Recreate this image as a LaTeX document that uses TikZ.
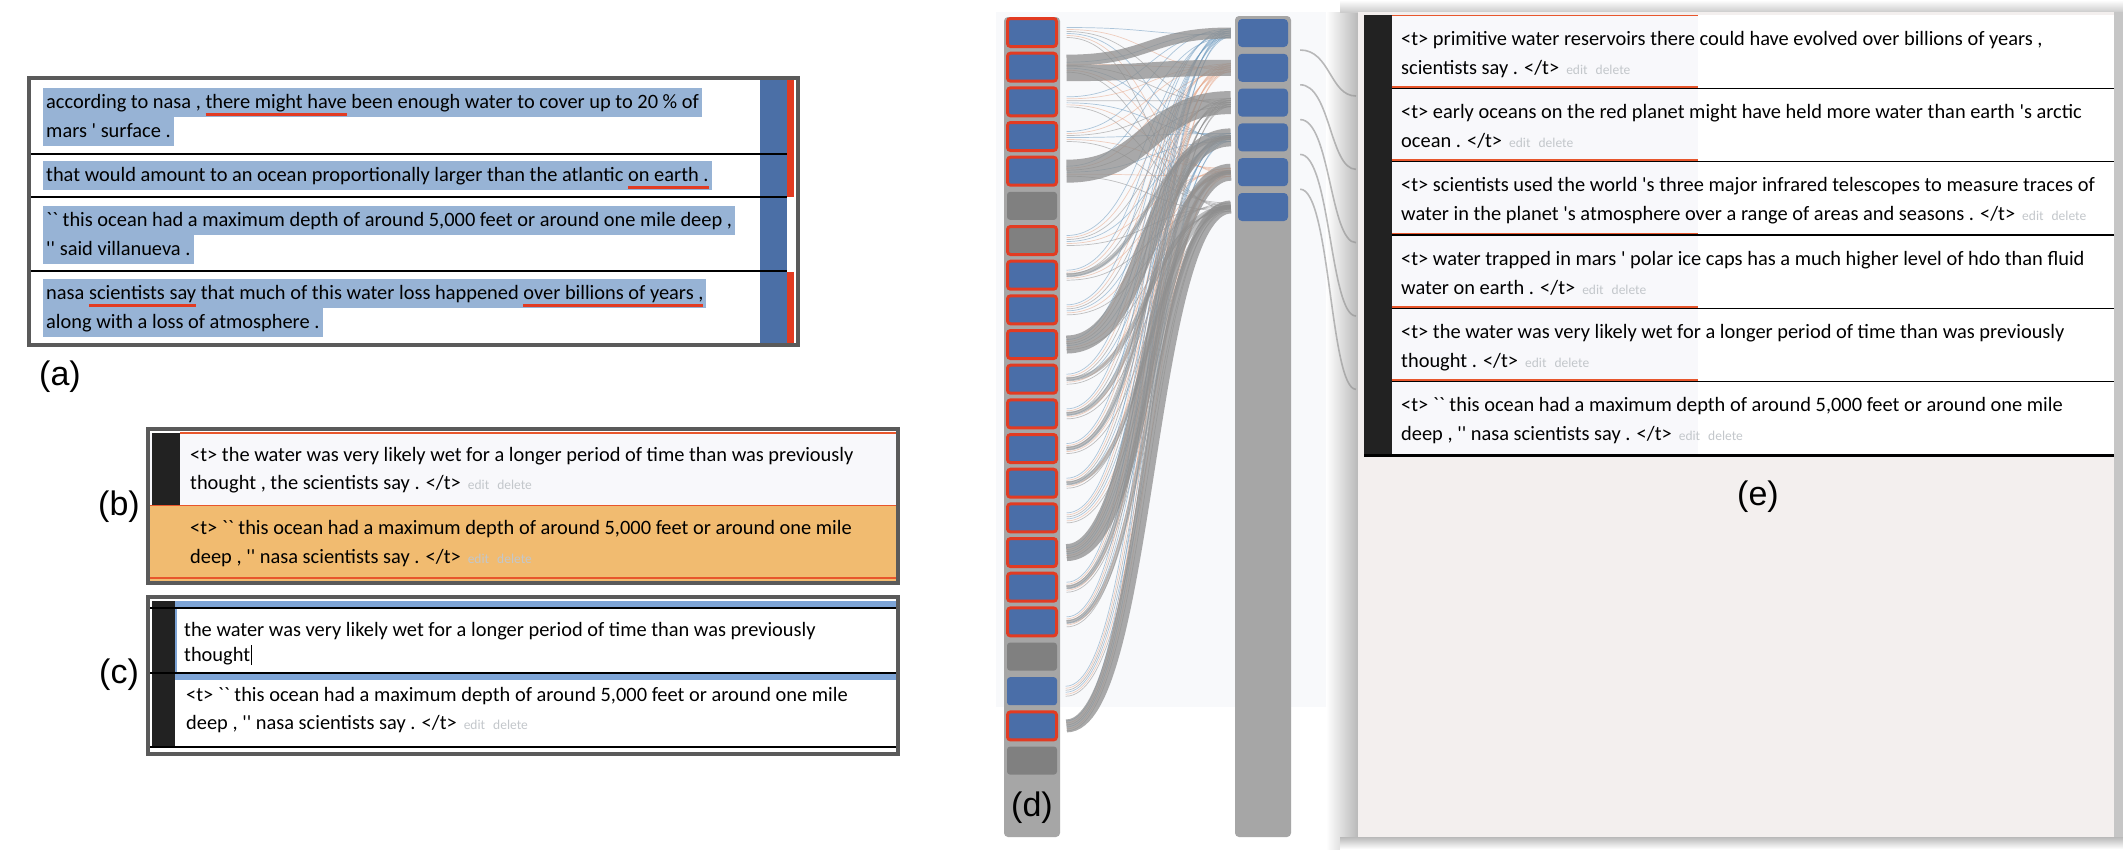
\documentclass[tikz,border=0pt]{standalone}
\usepackage{fontspec}
\newfontfamily\uifont{Carlito}
\newfontfamily\labfont{Liberation Sans}
\usetikzlibrary{positioning}

\definecolor{panelgray}{HTML}{5A5A5A}
\definecolor{hlblue}{HTML}{97B3D5}
\definecolor{barblue}{HTML}{4B6FA6}
\definecolor{boxblue}{HTML}{4A6EA8}
\definecolor{markred}{HTML}{E23B22}
\definecolor{roworange}{HTML}{F1BB70}
\definecolor{lineorange}{HTML}{E8562C}
\definecolor{darkbar}{HTML}{222222}
\definecolor{colgray}{HTML}{A6A6A6}
\definecolor{boxgray}{HTML}{808080}
\definecolor{flowgray}{HTML}{8E8E8E}
\definecolor{flowblue}{HTML}{6F9BBF}
\definecolor{floworange}{HTML}{E7A98C}
\definecolor{sankeybg}{HTML}{F8F9FB}
\definecolor{panelbg}{HTML}{F3EFEE}
\definecolor{editgray}{HTML}{C3C7CB}
\definecolor{focusblue}{HTML}{7DA4D6}
\definecolor{rowtint}{HTML}{F8F8FB}

\newlength\ulwd
\newcommand\redul[1]{\settowidth\ulwd{#1}\rlap{\textcolor{markred}{\rule[-7.5pt]{\ulwd}{3pt}}}#1}
\newcommand\editdel{\hspace{7pt}{\color{editgray}\fontsize{13.5}{15}\selectfont edit\hspace{8pt}delete}}

\begin{document}
\begin{tikzpicture}[x=1pt, y=-1pt]
    \tikzstyle{lab}     = [font=\labfont\fontsize{34}{40}\selectfont, inner sep=0pt]
    \tikzstyle{txt}     = [font=\uifont\fontsize{20.4}{24}\selectfont, anchor=base west, inner sep=0pt]
    \tikzstyle{hltxt}   = [txt, fill=hlblue, inner xsep=3pt, text height=20pt, text depth=9pt]
    \tikzstyle{panel}   = [draw=panelgray, line width=4pt]
    \tikzstyle{rowline} = [draw=black, line width=1.5pt]
    \tikzstyle{redbox}  = [rectangle, rounded corners=3pt, fill=boxblue, draw=markred, line width=3pt, minimum width=49pt, minimum height=28pt, inner sep=0pt]
    \tikzstyle{graybox} = [rectangle, rounded corners=3pt, fill=boxgray, minimum width=50pt, minimum height=28pt, inner sep=0pt]
    \tikzstyle{bluebox} = [graybox, fill=boxblue]
    \tikzstyle{flow}    = [draw=flowgray, opacity=.75]
    \tikzstyle{thread}  = [line width=.7pt, opacity=.55]

    \useasboundingbox (0,0) rectangle (2123,849);
    \fill[white] (0,0) rectangle (2123,849);

    % (a) sentence list
    \draw[panel, fill=white] (29,78) rectangle (798,345);
    \fill[barblue] (760,80) rectangle (787,343);
    \fill[markred] (787,80) rectangle (794,197);
    \fill[markred] (787,272) rectangle (794,343);
    \draw[rowline, line width=2.5pt] (31,154) -- (787,154);
    \draw[rowline, line width=2.5pt] (31,197) -- (787,197);
    \draw[rowline] (31,271) -- (787,271);

    \node[hltxt] (a11) at (43,108) {according to nasa , \redul{there might have} been enough water to cover up to 20 \% of};
    \node[hltxt] (a12) at (43,137) {mars ' surface .};
    \node[hltxt] (a21) at (43,181) {that would amount to an ocean proportionally larger than the atlantic \redul{on earth .}};
    \node[hltxt] (a31) at (43,226) {`` this ocean had a maximum depth of around 5,000 feet or around one mile deep ,};
    \node[hltxt] (a32) at (43,255) {'' said villanueva .};
    \node[hltxt] (a41) at (43,299) {nasa \redul{scientists say} that much of this water loss happened \redul{over billions of years ,}};
    \node[hltxt] (a42) at (43,328) {along with a loss of atmosphere .};
    \node[lab] (la) at (60,377) {(a)};

    % (b) merged pair
    \draw[panel] (148,429) rectangle (898,583);
    \fill[rowtint] (150,433) rectangle (896,505);
    \fill[darkbar] (152,433) rectangle (180,505);
    \fill[roworange] (150,506) rectangle (896,581);
    \draw[lineorange, line width=1.5pt] (180,433) -- (896,433);
    \draw[lineorange, line width=1.5pt] (150,505.5) -- (896,505.5);
    \draw[lineorange, line width=1.5pt] (150,578) -- (896,578);

    \node[txt] (b11) at (190,461) {<t> the water was very likely wet for a longer period of time than was previously};
    \node[txt] (b12) at (190,489) {thought , the scientists say . </t>\editdel};
    \node[txt] (b21) at (190,534) {<t> `` this ocean had a maximum depth of around 5,000 feet or around one mile};
    \node[txt] (b22) at (190,563) {deep , '' nasa scientists say . </t>\editdel};
    \node[lab] (lb) at (119,507) {(b)};

    % (c) editing
    \draw[panel, fill=white] (148,597) rectangle (898,754);
    \fill[darkbar] (152,601) rectangle (175,747);
    \fill[focusblue] (175,601) rectangle (896,607);
    \fill[focusblue] (175,674) rectangle (896,680);
    \draw[focusblue, line width=2pt] (176,602) -- (176,680);
    \draw[rowline, line width=2pt] (150,608) -- (896,608);
    \draw[rowline, line width=2pt] (150,673) -- (896,673);
    \draw[rowline] (150,747) -- (896,747);

    \node[txt] (c11) at (184,636) {the water was very likely wet for a longer period of time than was previously};
    \node[txt] (c12) at (184,661) {thought\hspace{1pt}\rule[-4pt]{1pt}{20pt}};
    \node[txt] (c21) at (186,701) {<t> `` this ocean had a maximum depth of around 5,000 feet or around one mile};
    \node[txt] (c22) at (186,729) {deep , '' nasa scientists say . </t>\editdel};
    \node[lab] (lc) at (119,675) {(c)};

    % (d) flow view
    \fill[sankeybg] (996,12) rectangle (1698,707);
    \fill[colgray, rounded corners=4pt] (1004,17) rectangle (1060,837);
    \fill[colgray, rounded corners=4pt] (1235,16) rectangle (1291,837);

    \foreach \i in {1,2,3,4,5,8,9,10,11,12,13,14,15,16,17,18,21}
        \node[redbox] (L\i) at (1032,{32.5+(\i-1)*34.67}) {};
    \foreach \i in {6,19,22}
        \node[graybox] (L\i) at (1032,{32.5+(\i-1)*34.67}) {};
    \node[redbox, fill=boxgray] (L7) at (1032,{32.5+6*34.67}) {};
    \node[bluebox] (L20) at (1032,{32.5+19*34.67}) {};

    \foreach \j in {1,...,6}
        \node[bluebox, rounded corners=4pt] (R\j) at (1263,{33+(\j-1)*34.8}) {};

    % thin links
    \foreach \i in {1,2,3,4,5,7,8,9,10,11,12,13,14,15,16,17,18,20,21}
        \foreach \j/\c in {1/flowblue,2/floworange,3/flowgray,4/flowblue,5/floworange,6/flowgray}
            \draw[thread, draw=\c] ([xshift=8.5pt, yshift={(7-2*\j)*1pt}]L\i.east)
                .. controls +(83,0) and +(-83,0) .. ([xshift=-7pt, yshift={(mod(\i,5)*2-4)*1pt}]R\j.west);

    % thick links
    \draw[flow, line width=11pt] ([xshift=8.5pt, yshift=7pt]L2.east) .. controls +(83,0) and +(-83,0) .. ([xshift=-7pt]R1.west);
    \draw[flow, line width=16pt] ([xshift=8.5pt, yshift=-6pt]L2.east) .. controls +(83,0) and +(-83,0) .. ([xshift=-7pt]R2.west);
    \draw[flow, line width=23pt] ([xshift=8.5pt]L5.east) .. controls +(83,0) and +(-83,0) .. ([xshift=-7pt]R3.west);
    \draw[flow, line width=18pt] ([xshift=8.5pt]L10.east) .. controls +(83,0) and +(-83,0) .. ([xshift=-7pt]R4.west);
    \draw[flow, line width=17pt] ([xshift=8.5pt]L16.east) .. controls +(83,0) and +(-83,0) .. ([xshift=-7pt]R5.west);
    \draw[flow, line width=13pt] ([xshift=8.5pt]L21.east) .. controls +(83,0) and +(-83,0) .. ([xshift=-7pt]R6.west);
    \foreach \i/\j in {8/4,11/6,12/5,13/4,14/6,17/5,18/6}
        \draw[flow, line width=4pt, opacity=.55] ([xshift=8.5pt]L\i.east) .. controls +(83,0) and +(-83,0) .. ([xshift=-7pt]R\j.west);
    \node[lab] (ld) at (1032,808) {(d)};

    % (e) sentence list
    \shade[left color=white, right color=gray!55] (1326,12) rectangle (1358,849);
    \shade[top color=gray!55, bottom color=white] (1340,837) rectangle (2123,849);
    \shade[top color=white, bottom color=gray!40] (1340,0) rectangle (2123,12);
    \fill[gray!45] (2114,12) rectangle (2123,837);

    % links on to the list
    \foreach \j in {1,...,5} {
        \coordinate (ep\j) at (1356,{96+(\j-1)*73.33});
        \draw[draw=flowgray, line width=1.6pt, opacity=.6] ([xshift=12pt, yshift=-17pt]R\j.east) .. controls +(30,0) and +(-26,0) .. (ep\j);
    }

    \fill[panelbg] (1358,12) rectangle (2114,837);
    \fill[white] (1392,15) rectangle (2114,455);
    \fill[rowtint] (1392,15) rectangle (1698,455);
    \fill[darkbar] (1364,15) rectangle (1392,455);
    \foreach \k in {1,...,5} {
        \draw[rowline] (1392,{15+\k*73.33}) -- (2114,{15+\k*73.33});
        \draw[lineorange, line width=1.5pt] (1392,{13.5+\k*73.33}) -- (1698,{13.5+\k*73.33});
    }
    \draw[lineorange, line width=1.5pt] (1392,15.5) -- (1698,15.5);
    \draw[rowline, line width=3pt] (1364,455) -- (2114,455);

    \node[txt] (e11) at (1401,45) {<t> primitive water reservoirs there could have evolved over billions of years ,};
    \node[txt] (e12) at (1401,74) {scientists say . </t>\editdel};
    \node[txt] (e21) at (1401,118.3) {<t> early oceans on the red planet might have held more water than earth 's arctic};
    \node[txt] (e22) at (1401,147.3) {ocean . </t>\editdel};
    \node[txt] (e31) at (1401,191.7) {<t> scientists used the world 's three major infrared telescopes to measure traces of};
    \node[txt] (e32) at (1401,220.7) {water in the planet 's atmosphere over a range of areas and seasons . </t>\editdel};
    \node[txt] (e41) at (1401,265) {<t> water trapped in mars ' polar ice caps has a much higher level of hdo than fluid};
    \node[txt] (e42) at (1401,294) {water on earth . </t>\editdel};
    \node[txt] (e51) at (1401,338.3) {<t> the water was very likely wet for a longer period of time than was previously};
    \node[txt] (e52) at (1401,367.3) {thought . </t>\editdel};
    \node[txt] (e61) at (1401,411.7) {<t> `` this ocean had a maximum depth of around 5,000 feet or around one mile};
    \node[txt] (e62) at (1401,440.7) {deep , '' nasa scientists say . </t>\editdel};
    \node[lab] (le) at (1758,497) {(e)};
\end{tikzpicture}
\end{document}
